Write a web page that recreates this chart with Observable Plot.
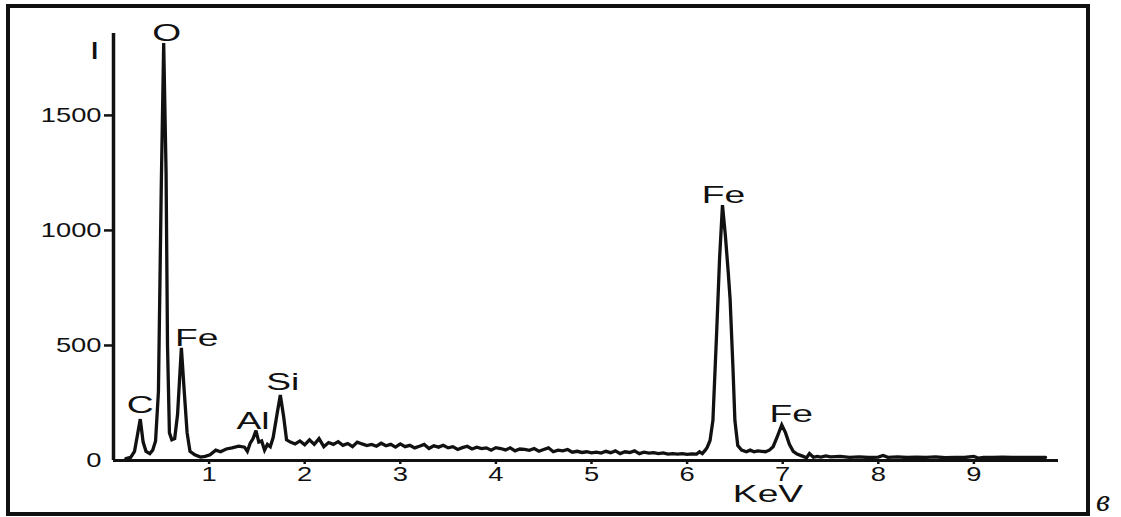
<!DOCTYPE html>
<html>
<head>
<meta charset="utf-8">
<script src="https://cdn.jsdelivr.net/npm/d3@7"></script>
<script src="https://cdn.jsdelivr.net/npm/@observablehq/plot@0.6"></script>
<style>
  html, body { margin: 0; padding: 0; background: #fff; }
  #wrap { position: relative; width: 1121px; height: 517px; overflow: hidden; }
  #frame { position: absolute; left: 6px; top: 4px; width: 1076px; height: 504px; border: 4px solid #111; }
  #chart { position: absolute; left: 0; top: 0; }
  #tag { position: absolute; left: 1096px; top: 482px; line-height: 1; font: italic 32px "Liberation Serif", "DejaVu Serif", serif; color: #111; }
</style>
</head>
<body>
<div id="wrap">
  <div id="frame"></div>
  <div id="chart"></div>
  <div id="tag">в</div>
</div>
<script>
// Energy (keV) of each read-off point of the spectrum
const energyKeV = [
  0.13, 0.18, 0.22, 0.25, 0.28, 0.31, 0.34, 0.38, 0.41, 0.44,
  0.47, 0.50, 0.525, 0.55, 0.565, 0.585, 0.61, 0.64, 0.67, 0.71,
  0.74, 0.77, 0.80, 0.85, 0.91, 0.96, 1.01, 1.07, 1.12, 1.18,
  1.24, 1.31, 1.37, 1.40, 1.43, 1.46, 1.49, 1.52, 1.55, 1.58,
  1.61, 1.64, 1.67, 1.71, 1.745, 1.78, 1.81, 1.85, 1.90, 1.95,
  2.00, 2.05, 2.10, 2.15, 2.20, 2.25, 2.30, 2.35, 2.40, 2.45,
  2.50, 2.55, 2.60, 2.65, 2.70, 2.75, 2.80, 2.85, 2.90, 2.95,
  3.00, 3.05, 3.10, 3.15, 3.20, 3.25, 3.30, 3.35, 3.40, 3.45,
  3.50, 3.55, 3.60, 3.65, 3.70, 3.75, 3.80, 3.85, 3.90, 3.95,
  4.00, 4.05, 4.10, 4.15, 4.20, 4.25, 4.30, 4.35, 4.40, 4.45,
  4.50, 4.55, 4.60, 4.65, 4.70, 4.75, 4.80, 4.85, 4.90, 4.95,
  5.00, 5.05, 5.10, 5.15, 5.20, 5.25, 5.30, 5.35, 5.40, 5.45,
  5.50, 5.55, 5.60, 5.65, 5.70, 5.75, 5.80, 5.85, 5.90, 5.95,
  6.00, 6.05, 6.10, 6.13, 6.16, 6.19, 6.21, 6.24, 6.27, 6.31,
  6.34, 6.37, 6.40, 6.43, 6.45, 6.48, 6.50, 6.53, 6.57, 6.62,
  6.66, 6.70, 6.74, 6.78, 6.82, 6.86, 6.90, 6.94, 6.99, 7.03,
  7.07, 7.11, 7.15, 7.20, 7.25, 7.28, 7.32, 7.36, 7.40, 7.45,
  7.50, 7.60, 7.70, 7.80, 7.90, 8.00, 8.05, 8.10, 8.20, 8.30,
  8.40, 8.50, 8.60, 8.70, 8.80, 8.90, 9.00, 9.05, 9.10, 9.20,
  9.30, 9.40, 9.50, 9.60, 9.70, 9.75
];
// Intensity (counts) at each point
const intensity = [
  8, 14, 40, 110, 180, 80, 40, 30, 45, 85,
  300, 1200, 1815, 1250, 500, 120, 90, 95, 200, 490,
  300, 120, 40, 25, 15, 18, 25, 45, 38, 50,
  55, 62, 58, 40, 75, 95, 130, 80, 85, 45,
  70, 60, 100, 200, 285, 190, 90, 80, 72, 85,
  68, 90, 70, 95, 60, 78, 70, 82, 66, 74,
  60, 80, 72, 65, 70, 62, 75, 64, 70, 58,
  72, 60, 66, 55, 62, 70, 52, 64, 58, 66,
  55, 60, 48, 56, 62, 50, 58, 52, 55, 45,
  56, 52, 46, 55, 42, 50, 48, 44, 52, 40,
  48, 55, 38, 45, 42, 48, 36, 40, 35, 38,
  33, 36, 32, 40, 34, 42, 30, 38, 35, 42,
  30, 36, 32, 34, 30, 33, 28, 30, 28, 30,
  27, 29, 28, 38, 30, 45, 57, 87, 174, 565,
  880, 1110, 980, 820, 700, 400, 174, 65, 45, 38,
  45, 38, 42, 40, 38, 45, 60, 100, 155, 120,
  70, 40, 28, 20, 12, 30, 14, 18, 15, 20,
  16, 18, 14, 16, 13, 15, 22, 14, 16, 13,
  15, 14, 16, 12, 14, 13, 18, 10, 14, 13,
  15, 13, 14, 13, 14, 14
];
// Peak labels and their anchor positions (keV, counts)
const peakNames = ["C", "O", "Fe", "Al", "Si", "Fe", "Fe"];
const peakLabelKeV = [0.28, 0.555, 0.87, 1.46, 1.77, 6.38, 7.09];
const peakLabelCounts = [239, 1857, 530, 170, 339, 1152, 200];
const xTicks = [1, 2, 3, 4, 5, 6, 7, 8, 9];
const yTicks = [0, 500, 1000, 1500];
const xTitle = "KeV";
const yTitle = "I";

const spectrum = energyKeV.map((k, i) => ({k, c: intensity[i]}));
const peaks = peakNames.map((n, i) => ({n, k: peakLabelKeV[i], c: peakLabelCounts[i]}));

const svg = Plot.plot({
  width: 1121,
  height: 517,
  marginLeft: 113,
  marginRight: 63,
  marginTop: 33,
  marginBottom: 57,
  style: {fontFamily: '"Liberation Sans", Arial, sans-serif', color: "#111", background: "transparent"},
  x: {domain: [0, 9.885]},
  y: {domain: [0, 1856]},
  marks: [
    Plot.axisX({ticks: xTicks, tickSize: 4, tickPadding: 2, strokeWidth: 2.5, fontSize: 21, label: null, tickFormat: d => String(d), className: "tl"}),
    Plot.axisY({ticks: yTicks.filter(d => d > 0), tickSize: 9, text: null, strokeWidth: 2.5, label: null}),
    Plot.axisY({ticks: yTicks, tickSize: 0, tickPadding: 12, fontSize: 21, label: null, tickFormat: d => String(d), className: "tl"}),
    Plot.ruleX([0], {y1: 0, y2: 1856, stroke: "#111", strokeWidth: 3.5}),
    Plot.ruleY([0], {stroke: "#111", strokeWidth: 3}),
    Plot.line(spectrum, {x: "k", y: "c", stroke: "#111", strokeWidth: 3.3, strokeLinejoin: "miter", strokeMiterlimit: 3}),
    Plot.text(peaks, {x: "k", y: "c", text: "n", fontSize: 24, lineAnchor: "middle", fill: "#111", className: "lbl"}),
    Plot.text([xTitle], {frameAnchor: "bottom", dx: 182, dy: 34, fontSize: 24, lineAnchor: "middle", fill: "#111", className: "lbl"}),
    Plot.text([yTitle], {frameAnchor: "top-left", dx: -24, dy: 18, fontSize: 24, lineAnchor: "middle", fill: "#111", className: "lbl"})
  ]
});
document.getElementById("chart").append(svg);

function stretch(selector, k) {
  svg.querySelectorAll(selector).forEach(t => {
    const L = t.getComputedTextLength();
    if (L > 0) {
      t.setAttribute("textLength", (L * k).toFixed(1));
      t.setAttribute("lengthAdjust", "spacingAndGlyphs");
    }
  });
}
stretch(".tl text", 1.3);
stretch(".lbl text", 1.55);
</script>
</body>
</html>
